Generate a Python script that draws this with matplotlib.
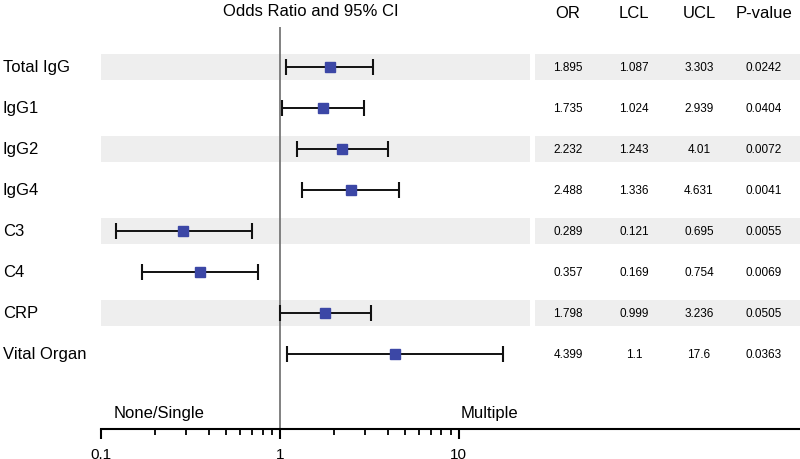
import matplotlib
matplotlib.use('Agg')
import matplotlib.pyplot as plt
import matplotlib.transforms as mtransforms
from matplotlib.lines import Line2D
from matplotlib.ticker import FixedLocator, NullFormatter

plt.rcParams['font.family'] = ['Liberation Sans', 'DejaVu Sans']

# Data
labels = ['Total IgG', 'IgG1', 'IgG2', 'IgG4', 'C3', 'C4', 'CRP', 'Vital Organ']
odds = [1.895, 1.735, 2.232, 2.488, 0.289, 0.357, 1.798, 4.399]
lcl = [1.087, 1.024, 1.243, 1.336, 0.121, 0.169, 0.999, 1.1]
ucl = [3.303, 2.939, 4.01, 4.631, 0.695, 0.754, 3.236, 17.6]
pvals = ['0.0242', '0.0404', '0.0072', '0.0041', '0.0055', '0.0069', '0.0505', '0.0363']
or_txt = ['1.895', '1.735', '2.232', '2.488', '0.289', '0.357', '1.798', '4.399']
lcl_txt = ['1.087', '1.024', '1.243', '1.336', '0.121', '0.169', '0.999', '1.1']
ucl_txt = ['3.303', '2.939', '4.01', '4.631', '0.695', '0.754', '3.236', '17.6']
shaded = [0, 2, 4, 6]
col_headers = ['OR', 'LCL', 'UCL', 'P-value']
major_ticks = [0.1, 1, 10]
minor_ticks = [0.2, 0.3, 0.4, 0.5, 0.6, 0.7, 0.8, 0.9, 2, 3, 4, 5, 6, 7, 8, 9]

W, H = 800, 460
fig = plt.figure(figsize=(8, 4.6), dpi=100)
ax = fig.add_axes([101 / W, 30.5 / H, 429 / W, 402 / H])

ax.set_xscale('log')
ax.set_xlim(0.1, 25)
ax.set_ylim(8.825, -0.98)

rows = list(range(len(labels)))
blend = mtransforms.blended_transform_factory(fig.transFigure, ax.transData)

# Gray bands (plot part and table part)
for r in shaded:
    ax.axhspan(r - 0.32, r + 0.32, color='#eeeeee', lw=0, zorder=0)
    fig.patches.append(plt.Rectangle((535 / W, r - 0.32), 265 / W, 0.64,
                                     transform=blend, color='#eeeeee', lw=0, zorder=-1))

# Reference line at OR = 1
ax.axvline(1, color='#777777', lw=1.3, zorder=1)

# Confidence intervals and point estimates
err_lo = [o - l for o, l in zip(odds, lcl)]
err_hi = [u - o for o, u in zip(odds, ucl)]
ax.errorbar(odds, rows, xerr=[err_lo, err_hi], fmt='none', ecolor='#111111',
            elinewidth=1.4, capsize=5.8, capthick=1.5, zorder=2)
ax.plot(odds, rows, 's', color='#3c47a6', markersize=7.2, zorder=3)

# Axis styling
for s in ['left', 'right', 'top']:
    ax.spines[s].set_visible(False)
ax.spines['bottom'].set_linewidth(1.5)
ax.set_yticks([])
ax.xaxis.set_major_locator(FixedLocator(major_ticks))
ax.xaxis.set_minor_locator(FixedLocator(minor_ticks))
ax.xaxis.set_minor_formatter(NullFormatter())
ax.set_xticklabels(['0.1', '1', '10'])
ax.tick_params(axis='x', which='major', length=7, width=1.5, labelsize=11, pad=6)
ax.tick_params(axis='x', which='minor', length=4, width=1.3)

# Extension of the axis line under the table
fig.lines.append(Line2D([532 / W, 1.0], [30.5 / H, 30.5 / H], transform=fig.transFigure,
                        color='black', lw=1.5))

# Row labels
for r, lab in zip(rows, labels):
    fig.text(3 / W, r, lab, transform=blend, ha='left', va='center', fontsize=12)

# Title and direction labels
fig.text(311 / W, 1 - 12 / H, 'Odds Ratio and 95% CI', ha='center', va='center', fontsize=12)
fig.text(159 / W, 1 - 414 / H, 'None/Single', ha='center', va='center', fontsize=12)
fig.text(489 / W, 1 - 414 / H, 'Multiple', ha='center', va='center', fontsize=12)

# Table
col_x = [568, 634, 699, 764]
for x, h in zip(col_x, col_headers):
    fig.text(x / W, 1 - 13 / H, h, ha='center', va='center', fontsize=12)
for r in rows:
    for x, vals in zip(col_x, [or_txt, lcl_txt, ucl_txt, pvals]):
        fig.text(x / W, r, vals[r], transform=blend, ha='center', va='center', fontsize=8.5)

fig.savefig('out.png', dpi=100)
